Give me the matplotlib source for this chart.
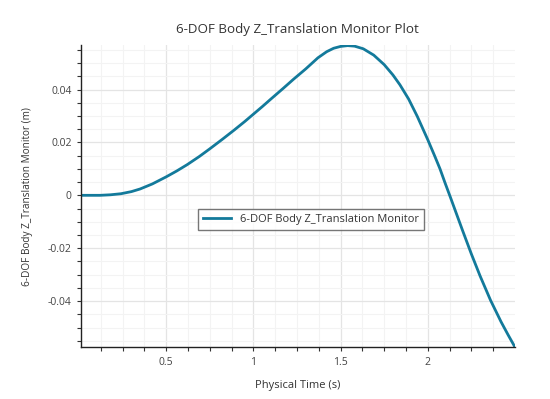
import numpy as np
import matplotlib
matplotlib.use('Agg')
import matplotlib.pyplot as plt
from matplotlib.ticker import MultipleLocator, FuncFormatter

# values
time_s = [0.01, 0.12, 0.18, 0.24, 0.30, 0.35, 0.42, 0.50, 0.56, 0.62, 0.69,
          0.75, 0.82, 0.89, 0.95, 1.00, 1.05, 1.10, 1.17, 1.23, 1.30, 1.37,
          1.42, 1.46, 1.50, 1.54, 1.58, 1.63, 1.69, 1.75, 1.80, 1.84, 1.89,
          1.94, 2.00, 2.04, 2.07, 2.10, 2.13, 2.16, 2.20, 2.25, 2.30, 2.36,
          2.42, 2.46, 2.50]
z_m = [0.0, 0.0, 0.0002, 0.0006, 0.0014, 0.0024, 0.0043, 0.0070, 0.0092,
       0.0116, 0.0147, 0.0176, 0.0211, 0.0247, 0.0279, 0.0307, 0.0335,
       0.0364, 0.0404, 0.0439, 0.0478, 0.0520, 0.0543, 0.0556, 0.0563,
       0.0566, 0.0564, 0.0554, 0.0530, 0.0494, 0.0455, 0.0418, 0.0364,
       0.0298, 0.0210, 0.0148, 0.0100, 0.0045, -0.0008, -0.0062, -0.0134,
       -0.0222, -0.0305, -0.0397, -0.0478, -0.0527, -0.0574]

title = '6-DOF Body Z_Translation Monitor Plot'
series_name = '6-DOF Body Z_Translation Monitor'
xlabel = 'Physical Time (s)'
ylabel = '6-DOF Body Z_Translation Monitor (m)'

plt.rcParams['font.family'] = ['Open Sans', 'DejaVu Sans']

fig = plt.figure(figsize=(5.5, 3.99), dpi=100)
ax = fig.add_axes([0.147, 0.130, 0.789, 0.757])

ax.plot(time_s, z_m, color='#137a9b', lw=2.0, label=series_name)

ax.set_xlim(0.01, 2.499)
ax.set_ylim(-0.0574, 0.0568)

ax.xaxis.set_major_locator(MultipleLocator(0.5))
ax.xaxis.set_minor_locator(MultipleLocator(0.125))
ax.yaxis.set_major_locator(MultipleLocator(0.02))
ax.yaxis.set_minor_locator(MultipleLocator(0.005))
fmt = FuncFormatter(lambda v, p: '0' if abs(v) < 1e-9 else '{:g}'.format(round(v, 4)))
ax.xaxis.set_major_formatter(fmt)
ax.yaxis.set_major_formatter(fmt)

ax.grid(which='major', color='#e4e4e4', lw=0.9)
ax.grid(which='minor', color='#f3f3f3', lw=0.8)
ax.set_axisbelow(True)

for s in ['top', 'right']:
    ax.spines[s].set_visible(False)
for s in ['left', 'bottom']:
    ax.spines[s].set_color('#222222')
    ax.spines[s].set_linewidth(1.0)

ax.tick_params(which='both', direction='out', length=3, width=0.8,
               color='#333333', labelsize=7.5, labelcolor='#444444')
ax.tick_params(axis='x', pad=4)

ax.set_title(title, fontsize=9.6, color='#333333', pad=9)
ax.set_xlabel(xlabel, fontsize=8, color='#333333', labelpad=9)
ax.set_ylabel(ylabel, fontsize=7.2, color='#333333', labelpad=11)

leg = ax.legend(loc='center', bbox_to_anchor=(0.531, 0.424), fontsize=8,
                frameon=True, fancybox=False, handlelength=2.5,
                borderpad=0.45, labelcolor='#333333')
leg.get_frame().set_edgecolor('#555555')
leg.get_frame().set_linewidth(1.0)

fig.savefig('out.png', dpi=100)
